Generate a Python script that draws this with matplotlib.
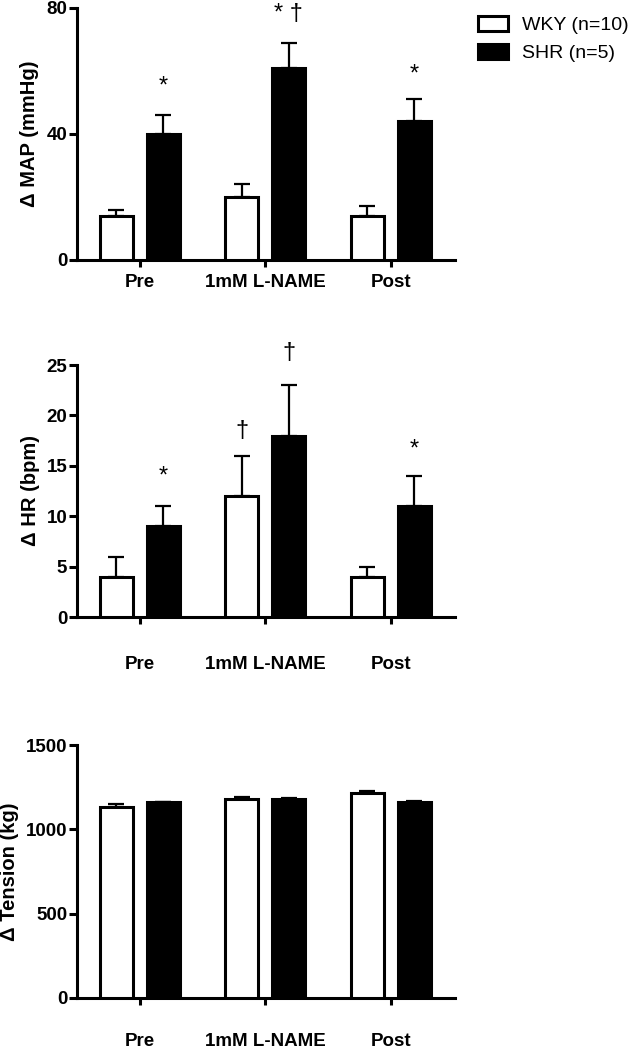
import numpy as np
import matplotlib.pyplot as plt
from matplotlib.patches import Patch

plt.rcParams['font.family'] = ['Liberation Sans', 'DejaVu Sans']

# Data
groups = ['Pre', '1mM L-NAME', 'Post']

map_wky = [14, 20, 14]
map_wky_err = [2, 4, 3]
map_shr = [40, 61, 44]
map_shr_err = [6, 8, 7]

hr_wky = [4, 12, 4]
hr_wky_err = [2, 4, 1]
hr_shr = [9, 18, 11]
hr_shr_err = [2, 5, 3]

ten_wky = [1135, 1180, 1218]
ten_wky_err = [15, 10, 12]
ten_shr = [1160, 1178, 1165]
ten_shr_err = [4, 5, 4]

# significance marks: (group index, series 0=WKY 1=SHR, y value, text)
map_marks = [(0, 1, 55, '*'), (1, 1, 78, '* \u2020'), (2, 1, 59, '*')]
hr_marks = [(0, 1, 13.9, '*'), (1, 0, 18.5, '\u2020'), (1, 1, 26.2, '\u2020'), (2, 1, 16.6, '*')]

x = np.arange(len(groups))
off = 0.187
w = 0.263

fig = plt.figure(figsize=(6.36, 10.5), dpi=100)
W, H = 636, 1050
left = 77 / W
width = (455 - 77) / W
panels = [
    (map_wky, map_wky_err, map_shr, map_shr_err, [0, 40, 80], '\u0394 MAP (mmHg)', 8, 260, 5, map_marks),
    (hr_wky, hr_wky_err, hr_shr, hr_shr_err, [0, 5, 10, 15, 20, 25], '\u0394 HR (bpm)', 365, 617, 23, hr_marks),
    (ten_wky, ten_wky_err, ten_shr, ten_shr_err, [0, 500, 1000, 1500], '\u0394 Tension (kg)', 745, 998, 20, []),
]

axes = []
for wky, wky_e, shr, shr_e, yt, ylab, top, bot, xpad, marks in panels:
    ax = fig.add_axes([left, 1 - bot / H, width, (bot - top) / H])
    axes.append(ax)
    lw = 2.2
    ax.bar(x - off, wky, w, color='white', edgecolor='black', linewidth=lw, zorder=3)
    ax.bar(x + off, shr, w, color='black', edgecolor='black', linewidth=lw, zorder=3)
    ax.errorbar(x - off, wky, yerr=[np.zeros(3), wky_e], fmt='none', ecolor='black',
                elinewidth=1.6, capsize=5.5, capthick=1.6, zorder=2)
    ax.errorbar(x + off, shr, yerr=[np.zeros(3), shr_e], fmt='none', ecolor='black',
                elinewidth=1.6, capsize=5.5, capthick=1.6, zorder=2)
    ax.set_xlim(-0.5, 2.51)
    ax.set_ylim(0, yt[-1])
    ax.set_yticks(yt)
    ax.set_xticks(x)
    ax.set_xticklabels(groups, fontweight='bold', fontsize=13.5)
    for lab in ax.get_yticklabels():
        lab.set_fontweight('bold')
        lab.set_fontsize(13.5)
    ax.set_ylabel(ylab, fontweight='bold', fontsize=14.5, labelpad=5)
    for s in ['top', 'right']:
        ax.spines[s].set_visible(False)
    for s in ['left', 'bottom']:
        ax.spines[s].set_linewidth(2.2)
    ax.tick_params(axis='y', length=6, width=2.2, pad=1)
    ax.tick_params(axis='x', length=5, width=2.2, pad=xpad)
    for gi, si, yv, t in marks:
        xp = x[gi] + (off if si else -off)
        ax.text(xp, yv, t, ha='center', va='center', fontsize=17, clip_on=False)

handles = [Patch(facecolor='white', edgecolor='black', linewidth=2.2, label='WKY (n=10)'),
           Patch(facecolor='black', edgecolor='black', linewidth=2.2, label='SHR (n=5)')]
fig.legend(handles=handles, loc='upper left', bbox_to_anchor=(470 / W, 1 - 8 / H),
           frameon=False, fontsize=14, handlelength=1.55, handleheight=0.85,
           handletextpad=0.75, labelspacing=0.5, borderaxespad=0)

fig.savefig('out.png', dpi=100)
